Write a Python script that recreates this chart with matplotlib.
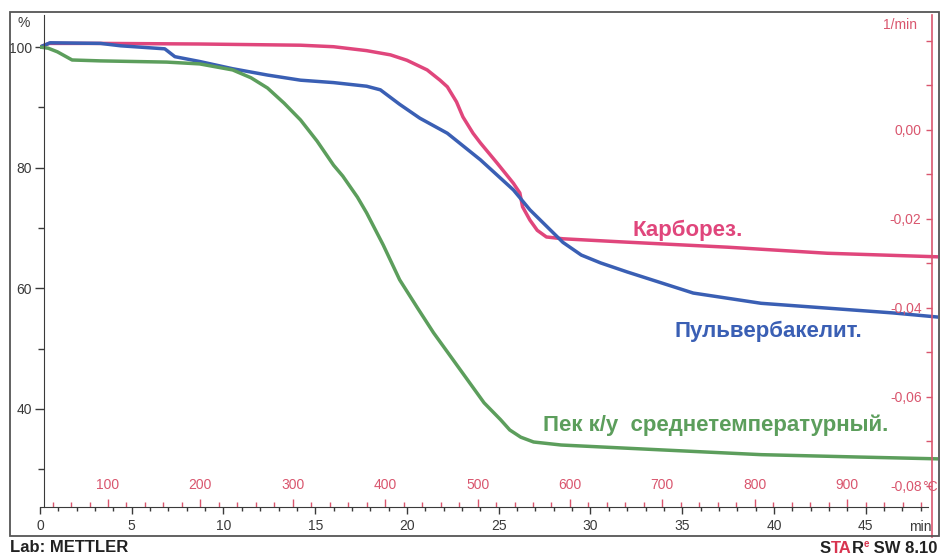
import matplotlib.pyplot as plt
from matplotlib.patches import Rectangle
from matplotlib.ticker import MultipleLocator, FixedLocator, FuncFormatter

plt.rcParams['font.family'] = ['Liberation Sans', 'DejaVu Sans']

# TGA mass curves: time in min, residual mass in %
t_carb = [0, 0.5, 3.3, 8.7, 14.2, 16.0, 17.8, 19.1, 20.0, 21.1, 21.8, 22.2, 22.7, 23.05,
          23.6, 24.0, 24.9, 25.8, 26.15, 26.3, 26.7, 27.1, 27.6, 28.5, 31.6, 37.5, 42.9,
          49.0]
m_carb = [100.0, 100.6, 100.6, 100.5, 100.3, 100.05, 99.4, 98.7, 97.8, 96.2, 94.5, 93.4,
          90.9, 88.4, 85.7, 84.1, 80.8, 77.4, 75.8, 73.5, 71.3, 69.6, 68.5, 68.2, 67.7,
          66.8, 65.8, 65.2]

t_bake = [0, 0.55, 3.3, 4.4, 6.8, 7.35, 8.7, 10.5, 12.4, 14.2, 16.0, 17.8, 18.55, 19.6,
          20.7, 22.2, 24.0, 25.8, 26.7, 27.7, 28.5, 29.5, 30.55, 32.0, 35.6, 39.3, 42.9,
          46.5, 49.0]
m_bake = [100.0, 100.7, 100.6, 100.2, 99.7, 98.4, 97.6, 96.4, 95.35, 94.5, 94.1, 93.5,
          92.9, 90.5, 88.2, 85.7, 81.3, 76.3, 73.0, 70.0, 67.6, 65.5, 64.2, 62.7, 59.2,
          57.5, 56.7, 55.9, 55.2]

t_pitch = [0, 0.45, 0.95, 1.75, 3.3, 6.9, 8.7, 10.5, 11.5, 12.4, 13.3, 14.2, 15.1, 16.0,
           16.5, 17.3, 17.8, 18.7, 19.6, 20.6, 21.45, 22.4, 23.3, 24.2, 25.1, 25.6, 26.2,
           26.9, 28.4, 33.8, 39.3, 44.7, 49.0]
m_pitch = [100.0, 99.8, 99.2, 97.85, 97.7, 97.5, 97.2, 96.2, 94.9, 93.2, 90.7, 87.9, 84.4,
           80.4, 78.6, 75.1, 72.5, 67.2, 61.4, 56.6, 52.6, 48.6, 44.8, 41.0, 38.2, 36.5,
           35.3, 34.5, 34.0, 33.2, 32.4, 32.0, 31.7]

y_major = [40, 60, 80, 100]
y_minor = [30, 50, 70, 90]
temp_major = [100, 200, 300, 400, 500, 600, 700, 800, 900]
dtg_ticks = [-0.08, -0.07, -0.06, -0.05, -0.04, -0.03, -0.02, -0.01, 0.0, 0.01, 0.02]

PINK = '#e0467c'
BLUE = '#3a5fb4'
GREEN = '#5c9e5c'
RED = '#d9566e'
DARK = '#3a3a3a'

W, H = 941, 556


def px(x, y):
    return x / W, 1 - y / H


fig = plt.figure(figsize=(W / 100, H / 100), dpi=100)
fig.patches.append(Rectangle(px(10, 536), 929 / W, 524 / H, transform=fig.transFigure,
                             fill=False, edgecolor='#555555', lw=1.3))

ax = fig.add_axes([40 / W, 1 - 507 / H, 898 / W, 492 / H])
ax.set_xlim(0, 48.94)
ax.set_ylim(23.72, 105.31)

ax.plot(t_carb, m_carb, color=PINK, lw=2.5, solid_joinstyle='round')
ax.plot(t_bake, m_bake, color=BLUE, lw=2.5, solid_joinstyle='round')
ax.plot(t_pitch, m_pitch, color=GREEN, lw=2.5, solid_joinstyle='round')

for s in ['top', 'right']:
    ax.spines[s].set_visible(False)
ax.spines['left'].set_position(('data', 0.22))
ax.spines['left'].set_color(DARK)
ax.spines['bottom'].set_color(DARK)
ax.spines['bottom'].set_bounds(0, 48.4)

ax.xaxis.set_major_locator(MultipleLocator(5))
ax.xaxis.set_minor_locator(MultipleLocator(1))
ax.tick_params(axis='x', which='major', length=5, width=1, color=DARK, labelcolor=DARK,
               labelsize=10, pad=4)
ax.tick_params(axis='x', which='minor', length=3, width=1, color=DARK)

ax.yaxis.set_major_locator(FixedLocator(y_major))
ax.yaxis.set_minor_locator(FixedLocator(y_minor))
ax.tick_params(axis='y', which='major', length=6.5, width=1, color=DARK, labelcolor=DARK,
               labelsize=10, pad=2)
ax.tick_params(axis='y', which='minor', length=4.5, width=1, color=DARK)

# temperature scale on the time axis
sec = ax.secondary_xaxis(0, functions=(lambda t: 26.4 + 19.86 * t,
                                       lambda T: (T - 26.4) / 19.86))
sec.spines['bottom'].set_visible(False)
sec.xaxis.set_major_locator(FixedLocator(temp_major))
sec.xaxis.set_minor_locator(MultipleLocator(20))
sec.tick_params(which='major', direction='in', length=6, width=1, color=RED,
                labelcolor=RED, labelsize=10, pad=-21)
sec.tick_params(which='minor', direction='in', length=3.5, width=1, color=RED)

# DTG scale on the right
ax2 = ax.twinx()
ax2.set_ylim(-0.08472, 0.02584)
for s in ['top', 'right', 'bottom']:
    ax2.spines[s].set_visible(False)
ax2.yaxis.tick_left()
ax2.spines['left'].set_position(('axes', 892 / 898))
ax2.spines['left'].set_color(RED)
ax2.spines['left'].set_linewidth(1.2)
ax2.spines['left'].set_bounds(-0.0915, 0.0258)
ax2.yaxis.set_major_locator(FixedLocator(dtg_ticks))


def dtg_label(v, pos):
    k = round(v * 100)
    if k % 2 or k == 2:
        return ''
    return f'{k / 100:.2f}'.replace('.', ',')


ax2.yaxis.set_major_formatter(FuncFormatter(dtg_label))
ax2.tick_params(axis='y', length=4.5, width=1, color=RED, labelcolor=RED, labelsize=10, pad=3)

# curve labels
ax.text(32.3, 69.6, 'Карборез.', color=PINK, fontsize=16, fontweight='bold', va='center')
ax.text(34.6, 52.9, 'Пульвербакелит.', color=BLUE, fontsize=16, fontweight='bold',
        va='center')
ax.text(27.4, 37.3, 'Пек к/у  среднетемпературный.', color=GREEN, fontsize=16,
        fontweight='bold', va='center')

fig.text(*px(24, 23), '%', color=DARK, fontsize=10, ha='center', va='center')
fig.text(*px(917, 25), '1/min', color=RED, fontsize=10, ha='right', va='center')
fig.text(*px(922, 487), '°C', color=RED, fontsize=10, ha='left', va='center')
fig.text(*px(920, 527), 'min', color=DARK, fontsize=10, ha='center', va='center')

fig.text(*px(10, 548), 'Lab: METTLER', color='#222222', fontsize=12, fontweight='bold',
         ha='left', va='center')

# software logo, pieces chained one after another
bold = dict(fontsize=12, fontweight='bold', annotation_clip=False)
s_txt = fig.text(*px(820, 553), 'S', color='#222222', fontsize=12, fontweight='bold',
                 ha='left', va='baseline')
ta_txt = ax.annotate('TA', xy=(1, 0), xycoords=s_txt, color='#d8344f', ha='left',
                     va='bottom', **bold)
r_txt = ax.annotate('R', xy=(1, 0), xycoords=ta_txt, color='#222222', ha='left',
                    va='bottom', **bold)
e_txt = ax.annotate('e', xy=(1, 0.45), xycoords=r_txt, color='#d8344f', ha='left',
                    va='bottom', fontsize=7, fontweight='bold', annotation_clip=False)
ax.annotate(' SW 8.10', xy=(1, 0), xycoords=(e_txt, r_txt), color='#222222',
            ha='left', va='bottom', **bold)

fig.savefig('out.png', dpi=100, facecolor='white')
